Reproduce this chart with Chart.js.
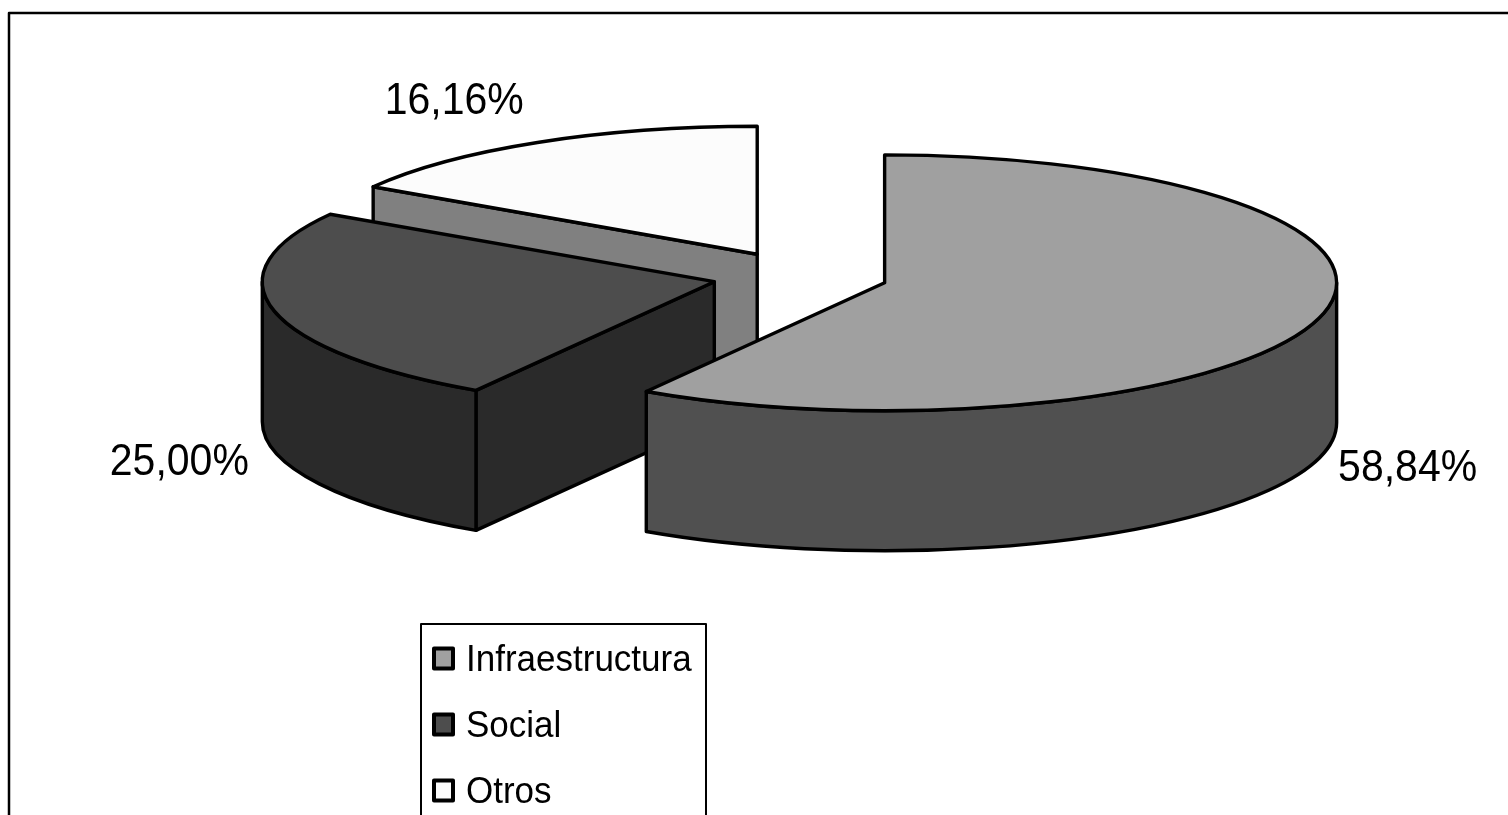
<!DOCTYPE html>
<html>
<head>
<meta charset="utf-8">
<style>html,body{margin:0;padding:0;background:#fff}canvas{display:block}</style>
<script src="https://cdn.jsdelivr.net/npm/chart.js@4"></script>
</head>
<body>
<canvas id="c" width="1508" height="815"></canvas>
<script>
const categories = ['Infraestructura', 'Social', 'Otros'];
const shares = [58.84, 25.00, 16.16];
const shareLabels = ['58,84%', '25,00%', '16,16%'];
const topColors = ['#a0a0a0', '#4d4d4d', '#fcfcfc'];
const sideColors = ['#505050', '#2a2a2a', '#808080'];

const TILT = 0.283, DEPTH = 140, LINE = 3.4, EXPLODE = 88;
const FONT = '"Liberation Sans", Arial, sans-serif';
// paint order back to front
const paintOrder = [2, 1, 0];
// label anchor (text centre) relative to each exploded slice centre
const labelShift = [[523, 186], [-535, 181], [-303, -152]];

function geom(el) {
  const mid = (el.startAngle + el.endAngle) / 2;
  const rx = el.outerRadius;
  return {
    x: el.x + Math.cos(mid) * EXPLODE,
    y: el.y + Math.sin(mid) * EXPLODE * TILT,
    rx, ry: rx * TILT, a0: el.startAngle, a1: el.endAngle
  };
}

function strokeFill(ctx, fill) {
  ctx.fillStyle = fill;
  ctx.fill();
  ctx.lineWidth = LINE;
  ctx.strokeStyle = '#000';
  ctx.lineJoin = 'round';
  ctx.stroke();
}

function face(ctx, g, a, color) {
  const px = g.x + Math.cos(a) * g.rx, py = g.y + Math.sin(a) * g.ry;
  ctx.beginPath();
  ctx.moveTo(g.x, g.y);
  ctx.lineTo(px, py);
  ctx.lineTo(px, py + DEPTH);
  ctx.lineTo(g.x, g.y + DEPTH);
  ctx.closePath();
  strokeFill(ctx, color);
}

function rim(ctx, g, color) {
  const from = Math.max(g.a0, 0), to = Math.min(g.a1, Math.PI);
  if (to <= from) return;
  ctx.beginPath();
  ctx.ellipse(g.x, g.y, g.rx, g.ry, 0, from, to);
  ctx.lineTo(g.x + Math.cos(to) * g.rx, g.y + Math.sin(to) * g.ry + DEPTH);
  ctx.ellipse(g.x, g.y + DEPTH, g.rx, g.ry, 0, to, from, true);
  ctx.closePath();
  strokeFill(ctx, color);
}

function stretchedText(ctx, text, x, y, sy) {
  ctx.save();
  ctx.translate(x, y);
  ctx.scale(1, sy);
  ctx.fillText(text, 0, 0);
  ctx.restore();
}

const pie3d = {
  id: 'pie3d',
  beforeDatasetsDraw(chart) {
    const ctx = chart.ctx;
    const els = chart.getDatasetMeta(0).data;
    paintOrder.forEach(i => {
      const el = els[i], g = geom(el);
      if (Math.cos(g.a0) < -1e-6) face(ctx, g, g.a0, sideColors[i]);
      if (Math.cos(g.a1) > 1e-6) face(ctx, g, g.a1, sideColors[i]);
      rim(ctx, g, sideColors[i]);
      ctx.beginPath();
      ctx.moveTo(g.x, g.y);
      ctx.ellipse(g.x, g.y, g.rx, g.ry, 0, g.a0, g.a1);
      ctx.closePath();
      strokeFill(ctx, el.options.backgroundColor);
    });
    return false;
  },
  afterDraw(chart) {
    const ctx = chart.ctx;
    const els = chart.getDatasetMeta(0).data;
    ctx.save();
    // outer frame: top and left only are in view
    ctx.strokeStyle = '#000';
    ctx.lineWidth = 2.5;
    ctx.beginPath();
    ctx.moveTo(9, 815);
    ctx.lineTo(9, 13);
    ctx.lineTo(1508, 13);
    ctx.stroke();
    // percentage labels
    ctx.fillStyle = '#000';
    ctx.font = '41px ' + FONT;
    ctx.textAlign = 'center';
    ctx.textBaseline = 'middle';
    els.forEach((el, i) => {
      const g = geom(el);
      stretchedText(ctx, shareLabels[i], g.x + labelShift[i][0], g.y + labelShift[i][1], 1.07);
    });
    // legend
    ctx.lineWidth = 2;
    ctx.strokeRect(421, 624, 285, 200);
    ctx.font = '35px ' + FONT;
    ctx.textAlign = 'left';
    ctx.textBaseline = 'alphabetic';
    categories.forEach((name, i) => {
      const y = 658.5 + i * 66;
      ctx.fillStyle = topColors[i];
      ctx.lineWidth = 4;
      ctx.lineJoin = 'round';
      ctx.beginPath();
      ctx.rect(434, y - 10, 19, 20);
      ctx.fill();
      ctx.stroke();
      ctx.fillStyle = '#000';
      stretchedText(ctx, name, 466, y + 12, 1.08);
    });
    ctx.restore();
  }
};

new Chart(document.getElementById('c'), {
  type: 'pie',
  data: {
    labels: categories,
    datasets: [{
      data: shares,
      backgroundColor: topColors,
      borderWidth: 0,
      radius: 452
    }]
  },
  options: {
    responsive: false,
    animation: false,
    layout: { padding: { left: 92, bottom: 263 } },
    plugins: { legend: { display: false }, tooltip: { enabled: false } }
  },
  plugins: [pie3d]
});
</script>
</body>
</html>
